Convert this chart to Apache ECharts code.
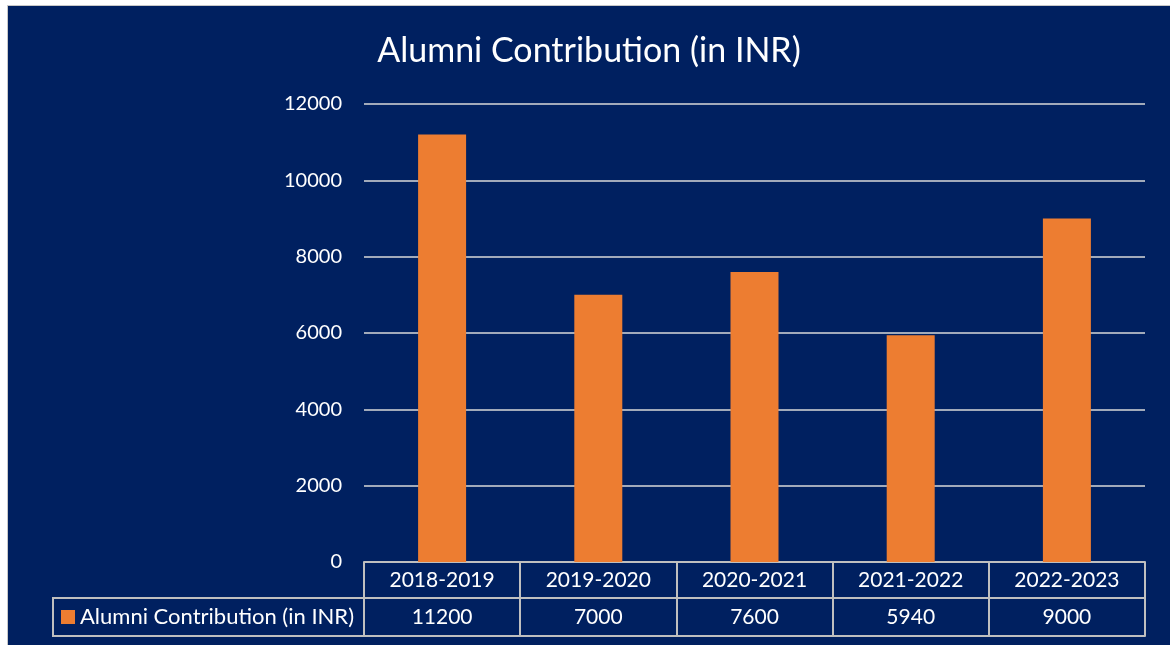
<!DOCTYPE html>
<html>
<head>
<meta charset="utf-8">
<script src="https://cdn.jsdelivr.net/npm/echarts@6/dist/echarts.min.js"></script>
<style>
  html, body { margin: 0; padding: 0; background: #ffffff; }
  #main {
    position: absolute; left: 7px; top: 5px;
    width: 1162px; height: 639px;
    border-left: 1px solid #c8c8c8; border-top: 1px solid #c8c8c8;
  }
</style>
</head>
<body>
<div id="main"></div>
<script>
// data
var categories = ['2018-2019', '2019-2020', '2020-2021', '2021-2022', '2022-2023'];
var contribution = [11200, 7000, 7600, 5940, 9000];
var seriesName = 'Alumni Contribution (in INR)';
var yTicks = { min: 0, max: 12000, interval: 2000 };

var navy = '#002060';
var orange = '#ED7D31';
var lineCol = '#BFBFBF';
var fontFam = 'Lato, "Open Sans", sans-serif';

var myChart = echarts.init(document.getElementById('main'));

var option = {
  backgroundColor: navy,
  animation: false,
  textStyle: { fontFamily: fontFam },
  title: {
    text: 'Alumni Contribution (in INR)',
    left: 576,
    top: 23,
    textAlign: 'center',
    textStyle: { color: '#ffffff', fontSize: 34, fontWeight: 'normal', fontFamily: fontFam }
  },
  legend: {
    data: [seriesName],
    left: 48,
    top: 595,
    icon: 'rect',
    itemWidth: 14,
    itemHeight: 14,
    textStyle: { color: '#ffffff', fontSize: 22, fontFamily: fontFam }
  },
  grid: { left: 356, right: 25, top: 98, bottom: 83 },
  xAxis: [
    {
      type: 'category',
      data: categories,
      position: 'bottom',
      axisLine: { show: true, lineStyle: { color: lineCol, width: 2 } },
      axisTick: { show: true, length: 74, lineStyle: { color: lineCol, width: 2 } },
      axisLabel: { color: '#ffffff', fontSize: 21, margin: 18, verticalAlign: 'middle', fontFamily: fontFam }
    },
    {
      type: 'category',
      data: contribution.map(String),
      position: 'bottom',
      offset: 36,
      axisLine: { show: true, lineStyle: { color: lineCol, width: 2 } },
      axisTick: { show: false },
      axisLabel: { color: '#ffffff', fontSize: 21, margin: 19, verticalAlign: 'middle', fontFamily: fontFam }
    },
    {
      type: 'category',
      data: categories,
      position: 'bottom',
      offset: 74,
      axisLine: { show: true, lineStyle: { color: lineCol, width: 2 } },
      axisTick: { show: false },
      axisLabel: { show: false }
    }
  ],
  yAxis: {
    type: 'value',
    min: yTicks.min,
    max: yTicks.max,
    interval: yTicks.interval,
    axisLine: { show: false },
    axisTick: { show: false },
    axisLabel: {
      color: '#ffffff', fontSize: 20, margin: 22, fontFamily: fontFam,
      formatter: function (v) { return String(v); }
    },
    splitLine: { lineStyle: { color: '#D9D9D9', width: 1.5 } }
  },
  graphic: [
    {
      type: 'rect',
      shape: { x: 45, y: 592, width: 311, height: 38 },
      style: { fill: 'none', stroke: lineCol, lineWidth: 2 }
    }
  ],
  series: [
    {
      name: seriesName,
      type: 'bar',
      xAxisIndex: 0,
      data: contribution,
      barWidth: 48,
      itemStyle: { color: orange }
    }
  ]
};

myChart.setOption(option);
</script>
</body>
</html>
